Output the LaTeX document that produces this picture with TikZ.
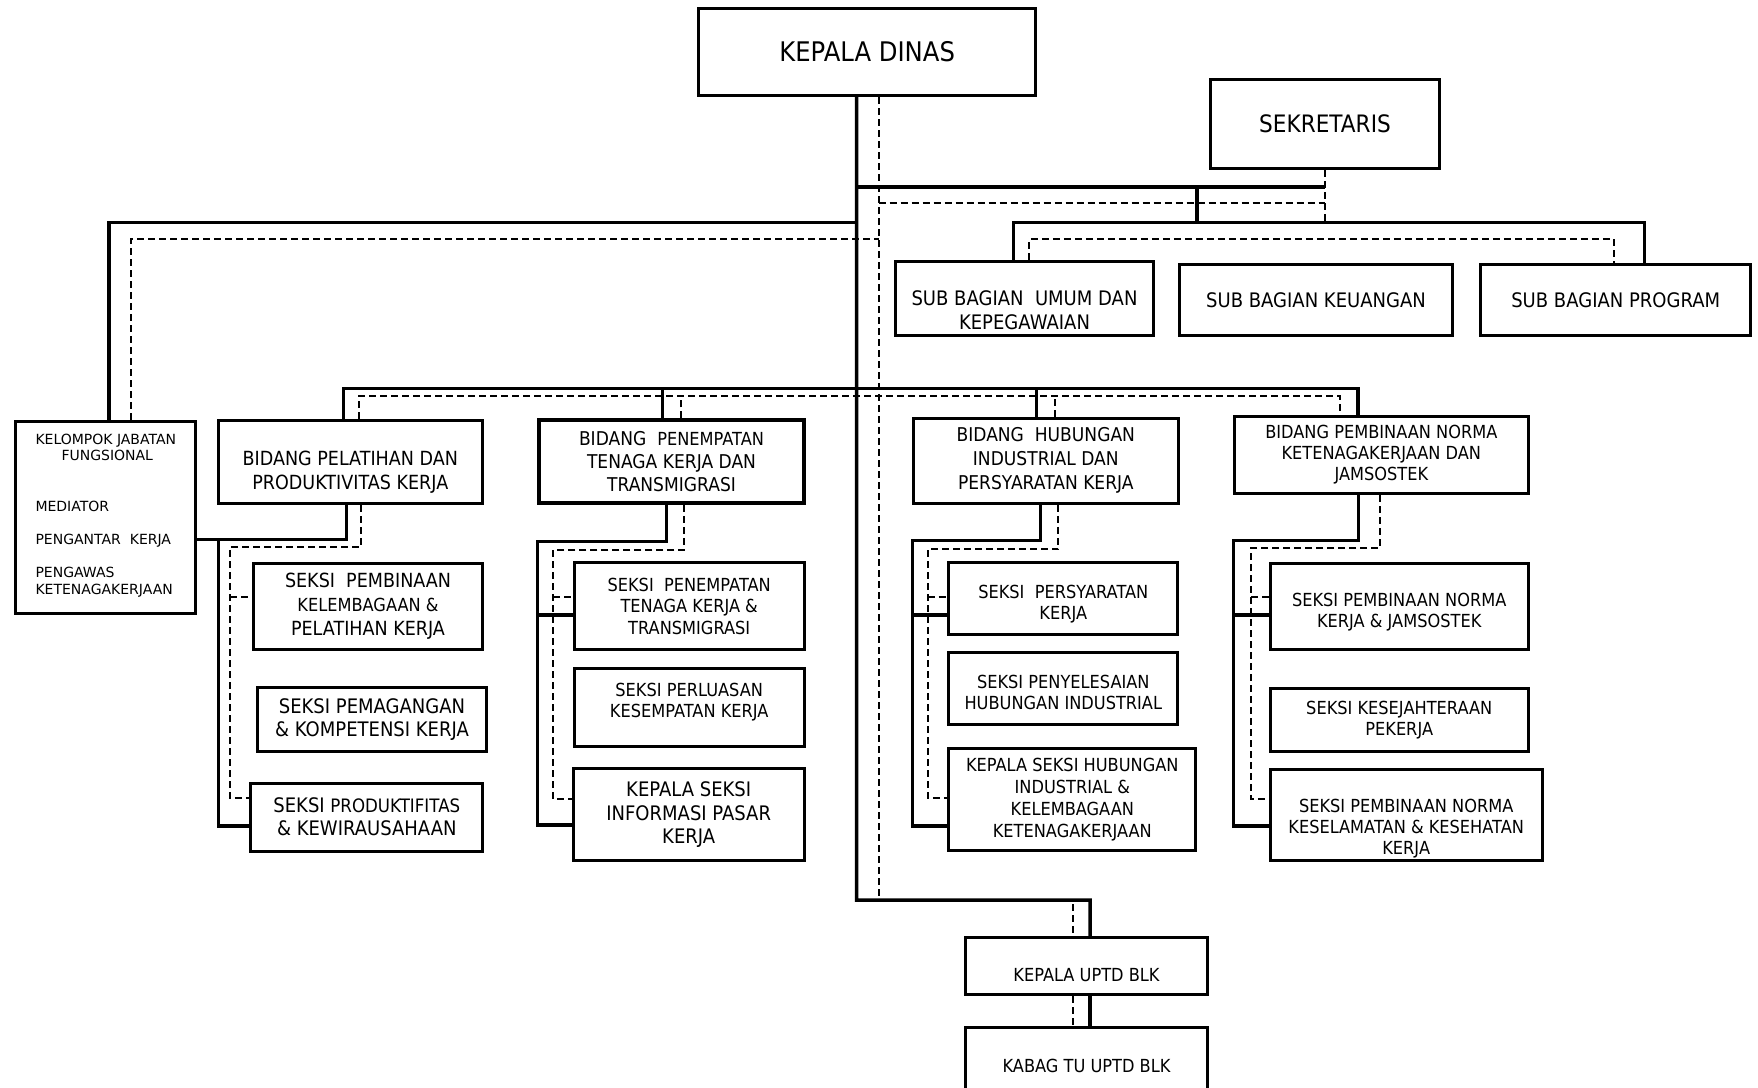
\documentclass[tikz,border=0pt]{standalone}
\usepackage{fontspec}
\setmainfont{DejaVu Sans}[FakeStretch=0.9]
\newfontfamily\kjffont{DejaVu Sans}
\usetikzlibrary{positioning}
\newcommand{\fsz}[2]{\fontsize{#1pt}{#2pt}\selectfont}

\tikzset{
    orgbox/.style={rectangle, draw=black, line width=3.3pt, align=center, inner sep=0pt, fill=white},
    solidline/.style={line width=3.5pt},
    dashline/.style={line width=2pt, dash pattern=on 7pt off 4pt},
    shifttext/.style={text depth=0pt, text height=#1},
}

\begin{document}
\begin{tikzpicture}[x=1pt, y=-1pt]
    \useasboundingbox (0,0) rectangle (1758,1087);

    %Nodes
    \begin{scope}[every node/.style={orgbox}]
    \node (dinas)       [minimum width=337pt, minimum height=87pt, font=\fsz{27}{32}] at (867.2,52) {KEPALA DINAS};
    \node (sekretaris)  [minimum width=229pt, minimum height=89pt, font=\fsz{24}{28}] at (1325,124) {SEKRETARIS};
    \node (umum)        [minimum width=258pt, minimum height=74pt, font=\fsz{20}{23.5}, shifttext=61pt] at (1024.5,298.5) {SUB BAGIAN\ \ UMUM DAN\\KEPEGAWAIAN};
    \node (keuangan)    [minimum width=273pt, minimum height=71pt, font=\fsz{20}{24}] at (1316,300) {SUB BAGIAN KEUANGAN};
    \node (program)     [minimum width=270pt, minimum height=71pt, font=\fsz{20}{24}] at (1615.7,300) {SUB BAGIAN PROGRAM};

    \node (kjf)         [minimum width=180pt, minimum height=192pt, align=left, font={\kjffont\fsz{14}{16.7}}, shifttext=154pt] at (105.8,517.5)
        {KELOMPOK JABATAN\\\hspace*{26pt}FUNGSIONAL\\[33.4pt]MEDIATOR\\[16.7pt]PENGANTAR\ \ KERJA\\[16.7pt]PENGAWAS\\KETENAGAKERJAAN};
    \node (bpelatihan)  [minimum width=264pt, minimum height=83pt, font=\fsz{19.5}{23.7}, shifttext=54pt] at (350.3,462) {BIDANG PELATIHAN DAN\\PRODUKTIVITAS KERJA};
    \node (bpenempatan) [minimum width=265pt, minimum height=83pt, font=\fsz{19}{23}] at (671.5,461.6) {BIDANG\ \ {\fsz{18}{23}PENEMPATAN}\\TENAGA KERJA DAN\\TRANSMIGRASI};
    \node (bhubungan)   [minimum width=265pt, minimum height=85pt, font=\fsz{19}{24}] at (1045.8,460.8) {BIDANG\ \ HUBUNGAN\\INDUSTRIAL DAN\\PERSYARATAN KERJA};
    \node (bnorma)      [minimum width=294pt, minimum height=77pt, font=\fsz{18}{21}] at (1381.3,455) {BIDANG PEMBINAAN NORMA\\KETENAGAKERJAAN DAN\\JAMSOSTEK};

    \node (pembinaan)   [minimum width=229pt, minimum height=86pt, font=\fsz{19.5}{23.8}] at (368,606.3) {SEKSI\ \ PEMBINAAN\\{\fsz{18}{23.8}KELEMBAGAAN \&}\\PELATIHAN KERJA};
    \node (pemagangan)  [minimum width=229pt, minimum height=64pt, font=\fsz{20}{23.7}] at (372,719.7) {SEKSI PEMAGANGAN\\\& KOMPETENSI KERJA};
    \node (produktif)   [minimum width=232pt, minimum height=68pt, font=\fsz{20}{23}] at (366.8,817.2) {SEKSI {\fsz{18.5}{23}PRODUKTIFITAS}\\\& KEWIRAUSAHAAN};

    \node (penempatan)  [minimum width=230pt, minimum height=87pt, font=\fsz{18}{21.5}] at (689.2,606) {SEKSI\ \ PENEMPATAN\\TENAGA KERJA \&\\TRANSMIGRASI};
    \node (perluasan)   [minimum width=230pt, minimum height=78pt, font=\fsz{18}{21}, shifttext=19.5pt] at (689.2,707.8) {SEKSI PERLUASAN\\KESEMPATAN KERJA};
    \node (infopasar)   [minimum width=231pt, minimum height=92pt, font=\fsz{20}{23.7}] at (688.7,814.8) {KEPALA SEKSI\\INFORMASI PASAR\\KERJA};

    \node (persyaratan) [minimum width=229pt, minimum height=72pt, font=\fsz{18}{21}, shifttext=42pt] at (1063.3,598.5) {SEKSI\ \ PERSYARATAN\\KERJA};
    \node (penyelesaian)[minimum width=229pt, minimum height=72pt, font=\fsz{18}{21}, shifttext=42pt] at (1063.3,688.2) {SEKSI PENYELESAIAN\\HUBUNGAN INDUSTRIAL};
    \node (kelembagaan) [minimum width=247pt, minimum height=102pt, font=\fsz{18}{22}] at (1072.3,799.2) {KEPALA SEKSI HUBUNGAN\\INDUSTRIAL \&\\KELEMBAGAAN\\KETENAGAKERJAAN};

    \node (normakerja)  [minimum width=258pt, minimum height=86pt, font=\fsz{18}{21.7}, shifttext=43pt] at (1399.2,606.3) {SEKSI PEMBINAAN NORMA\\KERJA \& JAMSOSTEK};
    \node (kesejahteraan)[minimum width=258pt, minimum height=63pt, font=\fsz{18}{21}] at (1399.2,720) {SEKSI KESEJAHTERAAN\\PEKERJA};
    \node (keselamatan) [minimum width=272pt, minimum height=91pt, font=\fsz{18}{21}, shifttext=78.5pt] at (1406.2,815.3) {SEKSI PEMBINAAN NORMA\\KESELAMATAN \& KESEHATAN\\KERJA};

    \node (uptd)        [minimum width=242pt, minimum height=57pt, font=\fsz{18}{21}, shifttext=31pt] at (1086.5,966) {KEPALA UPTD BLK};
    \node (kabag)       [minimum width=242pt, minimum height=77pt, font=\fsz{18}{21}, below=30pt of uptd] {KABAG TU UPTD BLK};
    \end{scope}

    % Junctions
    \coordinate (trunkend)  at (856.6,900);
    \coordinate (dtrunkend) at (878.7,900);
    \coordinate (sekjoin)   at (856.6,187);
    \coordinate (sekdash)   at (878.7,203.3);
    \coordinate (subdrop)   at (1197,187);
    \coordinate (subbusL)   at (1013.3,222.7);
    \coordinate (subbusR)   at (1644.6,222.7);
    \coordinate (dsubbusL)  at (1029.3,239.3);
    \coordinate (dsubbusR)  at (1613.6,239.3);
    \coordinate (kjfbus)    at (108.8,222.7);
    \coordinate (dkjfbus)   at (131,239.3);
    \coordinate (bidbusL)   at (343.3,388.3);
    \coordinate (bidbusR)   at (1358,388.3);
    \coordinate (dbidbusL)  at (359.3,396);
    \coordinate (dbidbusR)  at (1340,396);
    \coordinate (col1) at (218.3,539.3);  \coordinate (dcol1) at (230,546.7);
    \coordinate (col2) at (537.3,541.7);  \coordinate (dcol2) at (553.3,550);
    \coordinate (col3) at (912.7,540.7);  \coordinate (dcol3) at (927.7,549.3);
    \coordinate (col4) at (1233.3,540.7); \coordinate (dcol4) at (1251,548.3);

    % Dashed lines
    \draw[dashline] ([xshift=11.5pt]dinas.south) -- (dtrunkend) -| ([xshift=-13.8pt]uptd.north);
    \draw[dashline] ([xshift=-13.8pt]uptd.south) -- ([xshift=-13.8pt]kabag.north);
    \draw[dashline] (sekretaris.south) -- (sekretaris.south |- subbusL);
    \draw[dashline] (sekdash) -- (sekdash -| sekretaris.south);
    \draw[dashline] (umum.north -| dsubbusL) -- (dsubbusL) -- (dsubbusR) -- (program.north -| dsubbusR);
    \draw[dashline] (kjf.north -| dkjfbus) -- (dkjfbus) -- (dkjfbus -| dtrunkend);
    \draw[dashline] (bpelatihan.north -| dbidbusL) -- (dbidbusL) -- (dbidbusR) -- (bnorma.north -| dbidbusR);
    \draw[dashline] ([xshift=9.2pt]bpenempatan.north) -- ([xshift=9.2pt]bpenempatan.north |- dbidbusL);
    \draw[dashline] ([xshift=8.9pt]bhubungan.north) -- ([xshift=8.9pt]bhubungan.north |- dbidbusL);

    \draw[dashline] ([xshift=10.7pt]bpelatihan.south) |- (dcol1) |- ([yshift=18.9pt]produktif.west);
    \draw[dashline] ([yshift=9.6pt]pembinaan.west -| dcol1) -- ([yshift=9.6pt]pembinaan.west);
    \draw[dashline] ([xshift=12.5pt]bpenempatan.south) |- (dcol2) |- ([yshift=15.5pt]infopasar.west);
    \draw[dashline] ([yshift=9.3pt]penempatan.west -| dcol2) -- ([yshift=9.3pt]penempatan.west);
    \draw[dashline] ([xshift=12.5pt]bhubungan.south) |- (dcol3) |- ([yshift=0.9pt]kelembagaan.west);
    \draw[dashline] ([yshift=1.8pt]persyaratan.west -| dcol3) -- ([yshift=1.8pt]persyaratan.west);
    \draw[dashline] ([xshift=-1.3pt]bnorma.south) |- (dcol4) |- ([yshift=16pt]keselamatan.west);
    \draw[dashline] ([yshift=9pt]normakerja.west -| dcol4) -- ([yshift=9pt]normakerja.west);

    % Solid lines
    \draw[solidline] ([xshift=-10.6pt]dinas.south) -- (trunkend) -| ([xshift=3.5pt]uptd.north);
    \draw[solidline] ([xshift=3.5pt]uptd.south) -- ([xshift=3.5pt]kabag.north);
    \draw[solidline] (sekjoin) -- (sekjoin -| sekretaris.south);
    \draw[solidline] (subdrop) -- (subdrop |- subbusL);
    \draw[solidline] (umum.north -| subbusL) -- (subbusL) -- (subbusR) -- (program.north -| subbusR);
    \draw[solidline] (kjf.north -| kjfbus) -- (kjfbus) -- (kjfbus -| trunkend);
    \draw[solidline] (bpelatihan.north -| bidbusL) -- (bidbusL) -- (bidbusR) -- (bnorma.north -| bidbusR);
    \draw[solidline] ([xshift=-8.8pt]bpenempatan.north) -- ([xshift=-8.8pt]bpenempatan.north |- bidbusL);
    \draw[solidline] ([xshift=-9.1pt]bhubungan.north) -- ([xshift=-9.1pt]bhubungan.north |- bidbusL);

    \draw[solidline] ([xshift=-3.6pt]bpelatihan.south) |- (kjf.east |- col1);
    \draw[solidline] (col1) |- ([yshift=-8.8pt]produktif.west);
    \draw[solidline] ([xshift=-4.8pt]bpenempatan.south) |- (col2) |- ([yshift=-10.2pt]infopasar.west);
    \draw[solidline] ([yshift=-9pt]penempatan.west -| col2) -- ([yshift=-9pt]penempatan.west);
    \draw[solidline] ([xshift=-5.1pt]bhubungan.south) |- (col3) |- ([yshift=-26.8pt]kelembagaan.west);
    \draw[solidline] ([yshift=-16.5pt]persyaratan.west -| col3) -- ([yshift=-16.5pt]persyaratan.west);
    \draw[solidline] ([xshift=-23pt]bnorma.south) |- (col4) |- ([yshift=-10.7pt]keselamatan.west);
    \draw[solidline] ([yshift=-8.7pt]normakerja.west -| col4) -- ([yshift=-8.7pt]normakerja.west);
\end{tikzpicture}
\end{document}
